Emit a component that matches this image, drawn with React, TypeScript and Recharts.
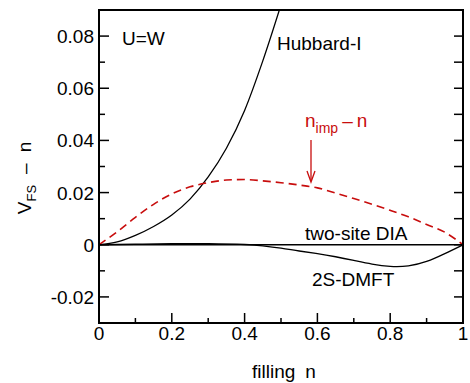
import { LineChart, Line, XAxis, YAxis } from 'recharts';

// values (filling n -> V_FS - n)
const hubbardN = [0, 0.05, 0.1, 0.15, 0.2, 0.25, 0.3, 0.35, 0.4, 0.45, 0.5];
const hubbardV = [0, 0.0011, 0.0036, 0.007, 0.0114, 0.0175, 0.026, 0.037, 0.0515, 0.0705, 0.092];

const impN = [0, 0.05, 0.1, 0.15, 0.2, 0.25, 0.3, 0.35, 0.4, 0.45, 0.5, 0.55, 0.6, 0.65, 0.7, 0.75, 0.8, 0.85, 0.9, 0.95, 1];
const impV = [0, 0.005, 0.0105, 0.0155, 0.0195, 0.0222, 0.0238, 0.0248, 0.025, 0.0245, 0.0238, 0.0229, 0.0218, 0.0198, 0.0177, 0.0155, 0.0132, 0.0107, 0.0078, 0.0048, 0];

const dmftN = [0, 0.1, 0.2, 0.3, 0.4, 0.45, 0.5, 0.55, 0.6, 0.65, 0.7, 0.75, 0.8, 0.85, 0.9, 0.95, 1];
const dmftV = [0, 0.0002, 0.0004, 0.0004, 0.0001, -0.0004, -0.0013, -0.0024, -0.0034, -0.0046, -0.006, -0.0074, -0.0083, -0.0081, -0.0064, -0.0034, 0];

const diaN = [0, 1];
const diaV = [0, 0];

const xTicks = [0, 0.1, 0.2, 0.3, 0.4, 0.5, 0.6, 0.7, 0.8, 0.9, 1];
const yTicks = [-0.03, -0.02, -0.01, 0, 0.01, 0.02, 0.03, 0.04, 0.05, 0.06, 0.07, 0.08, 0.09];

const zip = (xs: number[], ys: number[]) => xs.map((n, i) => ({ n, v: ys[i] }));

const FONT = '"Liberation Sans", Arial, Helvetica, sans-serif';
const RED = '#c80d0d';

const isMajorX = (v: number) => Math.round(v * 10) % 2 === 0;
const isMajorY = (v: number) => Math.round(v * 100) % 2 === 0;
const fmtX = (v: number) => (v === 0 ? '0' : v === 1 ? '1' : v.toFixed(1));
const fmtY = (v: number) => (Math.abs(v) < 1e-9 ? '0' : v.toFixed(2));

const BottomTick = (props: any) => {
  const { x, y, payload } = props;
  const major = isMajorX(payload.value);
  return (
    <g>
      <line x1={x} x2={x} y1={y} y2={y - (major ? 10 : 5)} stroke="#000" strokeWidth={1.5} />
      {major && (
        <text x={x} y={y + 17} textAnchor="middle" fontSize={19} fontFamily={FONT} fill="#000">
          {fmtX(payload.value)}
        </text>
      )}
    </g>
  );
};

const TopTick = (props: any) => {
  const { x, y } = props;
  return <line x1={x} x2={x} y1={y} y2={y + 5} stroke="#000" strokeWidth={1.5} />;
};

const LeftTick = (props: any) => {
  const { x, y, payload } = props;
  const major = isMajorY(payload.value);
  return (
    <g>
      <line x1={x} x2={x + (major ? 10 : 6)} y1={y} y2={y} stroke="#000" strokeWidth={1.5} />
      {major && (
        <text x={x - 5} y={y + 7} textAnchor="end" fontSize={19} fontFamily={FONT} fill="#000">
          {fmtY(payload.value)}
        </text>
      )}
    </g>
  );
};

const RightTick = (props: any) => {
  const { x, y } = props;
  return <line x1={x} x2={x - 9} y1={y} y2={y} stroke="#000" strokeWidth={1.5} />;
};

const axisLine = { stroke: '#000', strokeWidth: 2, strokeLinecap: 'square' as const };

export default function App() {
  return (
    <div style={{ position: 'absolute', left: 0, top: 0, background: '#fff' }}>
      <LineChart width={470} height={383} margin={{ top: 9, right: 6, bottom: 59, left: 98 }}>
        <XAxis
          xAxisId="b"
          dataKey="n"
          type="number"
          domain={[0, 1]}
          ticks={xTicks}
          interval={0}
          height={1}
          tickSize={0}
          tickMargin={0}
          tickLine={false}
          axisLine={axisLine}
          tick={BottomTick}
        />
        <XAxis
          xAxisId="t"
          orientation="top"
          dataKey="n"
          type="number"
          domain={[0, 1]}
          ticks={xTicks}
          interval={0}
          height={1}
          tickSize={0}
          tickMargin={0}
          tickLine={false}
          axisLine={axisLine}
          tick={TopTick}
        />
        <YAxis
          yAxisId="l"
          type="number"
          domain={[-0.03, 0.09]}
          allowDataOverflow
          ticks={yTicks}
          interval={0}
          width={1}
          tickSize={0}
          tickMargin={0}
          tickLine={false}
          axisLine={axisLine}
          tick={LeftTick}
        />
        <YAxis
          yAxisId="r"
          orientation="right"
          type="number"
          domain={[-0.03, 0.09]}
          allowDataOverflow
          ticks={yTicks}
          interval={0}
          width={1}
          tickSize={0}
          tickMargin={0}
          tickLine={false}
          axisLine={axisLine}
          tick={RightTick}
        />
        <Line
          xAxisId="b"
          yAxisId="l"
          data={zip(diaN, diaV)}
          dataKey="v"
          type="linear"
          stroke="#000"
          strokeWidth={1.3}
          dot={false}
          isAnimationActive={false}
        />
        <Line
          xAxisId="b"
          yAxisId="l"
          data={zip(dmftN, dmftV)}
          dataKey="v"
          type="natural"
          stroke="#000"
          strokeWidth={1.3}
          dot={false}
          isAnimationActive={false}
        />
        <Line
          xAxisId="b"
          yAxisId="l"
          data={zip(hubbardN, hubbardV)}
          dataKey="v"
          type="monotone"
          stroke="#000"
          strokeWidth={1.3}
          dot={false}
          isAnimationActive={false}
        />
        <Line
          xAxisId="b"
          yAxisId="l"
          data={zip(impN, impV)}
          dataKey="v"
          type="monotone"
          stroke={RED}
          strokeWidth={1.6}
          strokeDasharray="8 5"
          dot={false}
          isAnimationActive={false}
        />
        <g fontFamily={FONT} fontSize={19} fill="#000">
          <text x={122} y={45}>U=W</text>
          <text x={277} y={50}>Hubbard-I</text>
          <text x={305} y={240}>two-site DIA</text>
          <text x={312} y={286}>2S-DMFT</text>
          <text x={305} y={127} fill={RED}>
            n<tspan fontSize={14} dy={6}>imp</tspan>
            <tspan dx={4} dy={-6}>–</tspan>
            <tspan dx={4}>n</tspan>
          </text>
          <text x={284} y={378} textAnchor="middle">
            filling<tspan dx={10}>n</tspan>
          </text>
          <text transform="translate(31,178) rotate(-90)" textAnchor="middle">
            V<tspan fontSize={13} dy={5}>FS</tspan>
            <tspan dx={11} dy={-5}>–</tspan>
            <tspan dx={11}>n</tspan>
          </text>
        </g>
        <g stroke={RED} strokeWidth={1.3} fill="none">
          <line x1={311} y1={140} x2={311} y2={181} />
          <polyline points="307,171 311,182 315,171" />
        </g>
      </LineChart>
    </div>
  );
}
